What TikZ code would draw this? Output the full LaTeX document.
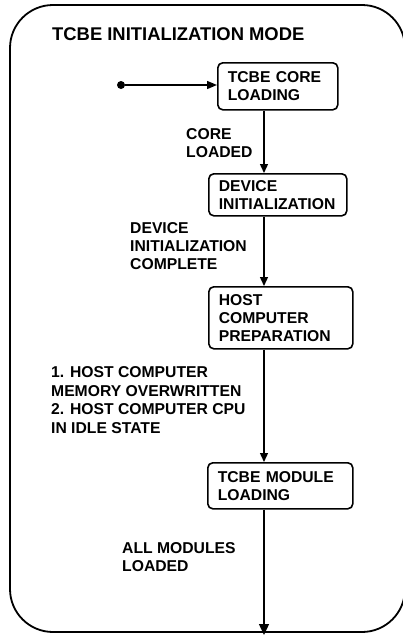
\documentclass[tikz,border=0pt]{standalone}
\usepackage{fontspec}
\setmainfont{Liberation Sans}
\usetikzlibrary{arrows.meta}
\newcommand\stepfont{\fontsize{15.7}{18}\selectfont\bfseries}
\newcommand\titlefont{\fontsize{18.4}{21}\selectfont\bfseries}
\begin{document}
\begin{tikzpicture}[x=1pt,y=-1pt,
  stepbox/.style={draw, line width=1.6pt, rounded corners=5pt, anchor=north west,
    align=left, inner xsep=10pt, inner ysep=0pt, font=\stepfont},
  lbl/.style={anchor=west, align=left, inner sep=0pt, font=\stepfont},
  flow/.style={line width=1.4pt, -{Triangle[length=9pt,width=8pt]}}]
\useasboundingbox (0,0) rectangle (403,635);
\clip (0,0) rectangle (403,635);

% outer state frame
\draw[line width=1.8pt, rounded corners=43pt] (10,5) rectangle (405,632);
\node[anchor=west, inner sep=0pt, font=\titlefont] (title) at (52,34) {TCBE INITIALIZATION MODE};

% states
\node[stepbox, text width=100pt, minimum height=47pt] (b1) at (217,62) {TCBE CORE\\LOADING};
\node[stepbox, text width=118pt, minimum height=42pt] (b2) at (208,173) {DEVICE\\INITIALIZATION};
\node[stepbox, text width=124pt, minimum height=62pt] (b3) at (208,286) {HOST\\COMPUTER\\PREPARATION};
\node[stepbox, text width=125pt, minimum height=46pt] (b4) at (207,462) {TCBE MODULE\\LOADING};

% transition labels
\node[lbl] (l1) at (186,143.5) {CORE\\LOADED};
\node[lbl] (l2) at (130,246.5) {DEVICE\\INITIALIZATION\\COMPLETE};
\node[lbl, font=\fontsize{15.7}{18.8}\selectfont\bfseries] (l3) at (51,400) {1. HOST COMPUTER\\MEMORY OVERWRITTEN\\2. HOST COMPUTER CPU\\IN IDLE STATE};
\node[lbl] (l4) at (122,557) {ALL MODULES\\LOADED};

% initial point, flow axis and exit
\node[circle, fill, inner sep=0pt, minimum size=8pt] (start) at (121,85) {};
\coordinate (ax) at (264,0);
\coordinate (exit) at (264,635);

% transitions
\draw[flow, -{Triangle[length=10pt,width=8pt]}] (start) -- (start -| b1.west);
\draw[flow] (b1.south -| ax) -- (b2.north -| ax);
\draw[flow] (b2.south -| ax) -- (b3.north -| ax);
\draw[flow] (b3.south -| ax) -- (b4.north -| ax);
\draw[flow, -{Triangle[length=11pt,width=10pt]}] (b4.south -| ax) -- (exit);
\end{tikzpicture}
\end{document}
